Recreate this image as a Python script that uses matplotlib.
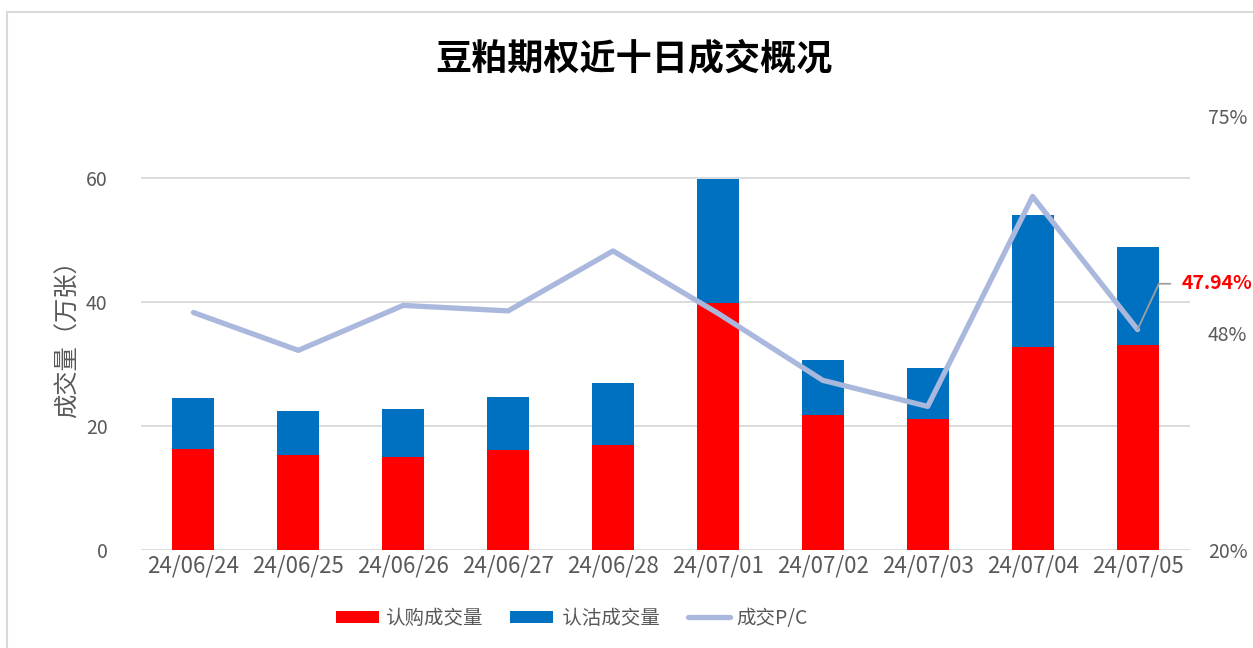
import matplotlib
matplotlib.use("Agg")
import matplotlib.pyplot as plt
from matplotlib.patches import Rectangle

plt.rcParams['font.family'] = ['Noto Sans CJK SC', 'DejaVu Sans']

# data
dates = ['24/06/24', '24/06/25', '24/06/26', '24/06/27', '24/06/28',
         '24/07/01', '24/07/02', '24/07/03', '24/07/04', '24/07/05']
call_vol = [16.3, 15.4, 15.0, 16.2, 17.0, 39.8, 21.7, 21.2, 32.7, 33.0]
put_vol = [8.2, 7.1, 7.8, 8.4, 9.9, 20.1, 9.0, 8.1, 21.3, 15.9]
pc_ratio = [50.1, 45.3, 51.0, 50.3, 57.9, 50.0, 41.5, 38.2, 64.8, 47.94]

gray = '#595959'
x = range(len(dates))

fig = plt.figure(figsize=(12.53, 6.48), dpi=100)
ax = fig.add_axes([0.1125, 0.1512, 0.8372, 0.6698])

ax.bar(x, call_vol, width=0.4, color='#ff0000', label='认购成交量', zorder=2)
ax.bar(x, put_vol, width=0.4, bottom=call_vol, color='#0070c0', label=' 认沽成交量', zorder=2)

ax.set_xlim(-0.5, len(dates) - 0.5)
ax.set_ylim(0, 70)
ax.set_yticks([0, 20, 40, 60])
ax.grid(axis='y', color='#d9d9d9', linewidth=1.3, zorder=0)
ax.set_xticks(list(x))
ax.set_xticklabels(dates)
ax.tick_params(axis='both', length=0, colors=gray)
ax.tick_params(axis='x', labelsize=16, pad=3)
ax.tick_params(axis='y', labelsize=14, pad=24)
for s in ax.spines.values():
    s.set_visible(False)
ax.set_ylabel('成交量（万张）', fontsize=17.5, color=gray, labelpad=4)

ax2 = ax.twinx()
ax2.plot(x, pc_ratio, color='#a9b8dc', linewidth=3.8, label='成交P/C',
         solid_capstyle='round', zorder=3)
ax2.set_ylim(20, 75)
ax2.set_yticks([20, 47.5, 75])
ax2.set_yticklabels(['20%', '48%', '75%'])
ax2.tick_params(axis='y', length=0, labelsize=14, colors=gray, pad=13)
for s in ax2.spines.values():
    s.set_visible(False)

# label for the last point
last = len(dates) - 1
ax2.annotate('%.2f%%' % pc_ratio[-1], xy=(last, pc_ratio[-1]),
             xytext=(last + 0.42, pc_ratio[-1] + 5.8),
             fontsize=14, fontweight='bold', color='#ff0000',
             ha='left', va='center', annotation_clip=False,
             arrowprops=dict(arrowstyle='-', color='#a0a0a0', lw=1.3,
                             connectionstyle='angle,angleA=0,angleB=65,rad=0',
                             shrinkA=6, shrinkB=0))

fig.suptitle('豆粕期权近十日成交概况', fontsize=26, fontweight='bold',
             x=0.506, y=0.91, va='center')

h1, l1 = ax.get_legend_handles_labels()
h2, l2 = ax2.get_legend_handles_labels()
fig.legend(h1 + h2, l1 + l2, loc='center', bbox_to_anchor=(0.4565, 0.046),
           ncol=3, frameon=False, fontsize=14, labelcolor=gray,
           handlelength=2.2, handleheight=0.55, columnspacing=1.4, handletextpad=0.3)

# outer chart frame
fig.patches.append(Rectangle((7 / 1253, -0.1), 1.2, (648 - 12) / 648 + 0.1,
                             transform=fig.transFigure, fill=False,
                             edgecolor='#d9d9d9', linewidth=1.5))

fig.savefig('out.png', dpi=100)
